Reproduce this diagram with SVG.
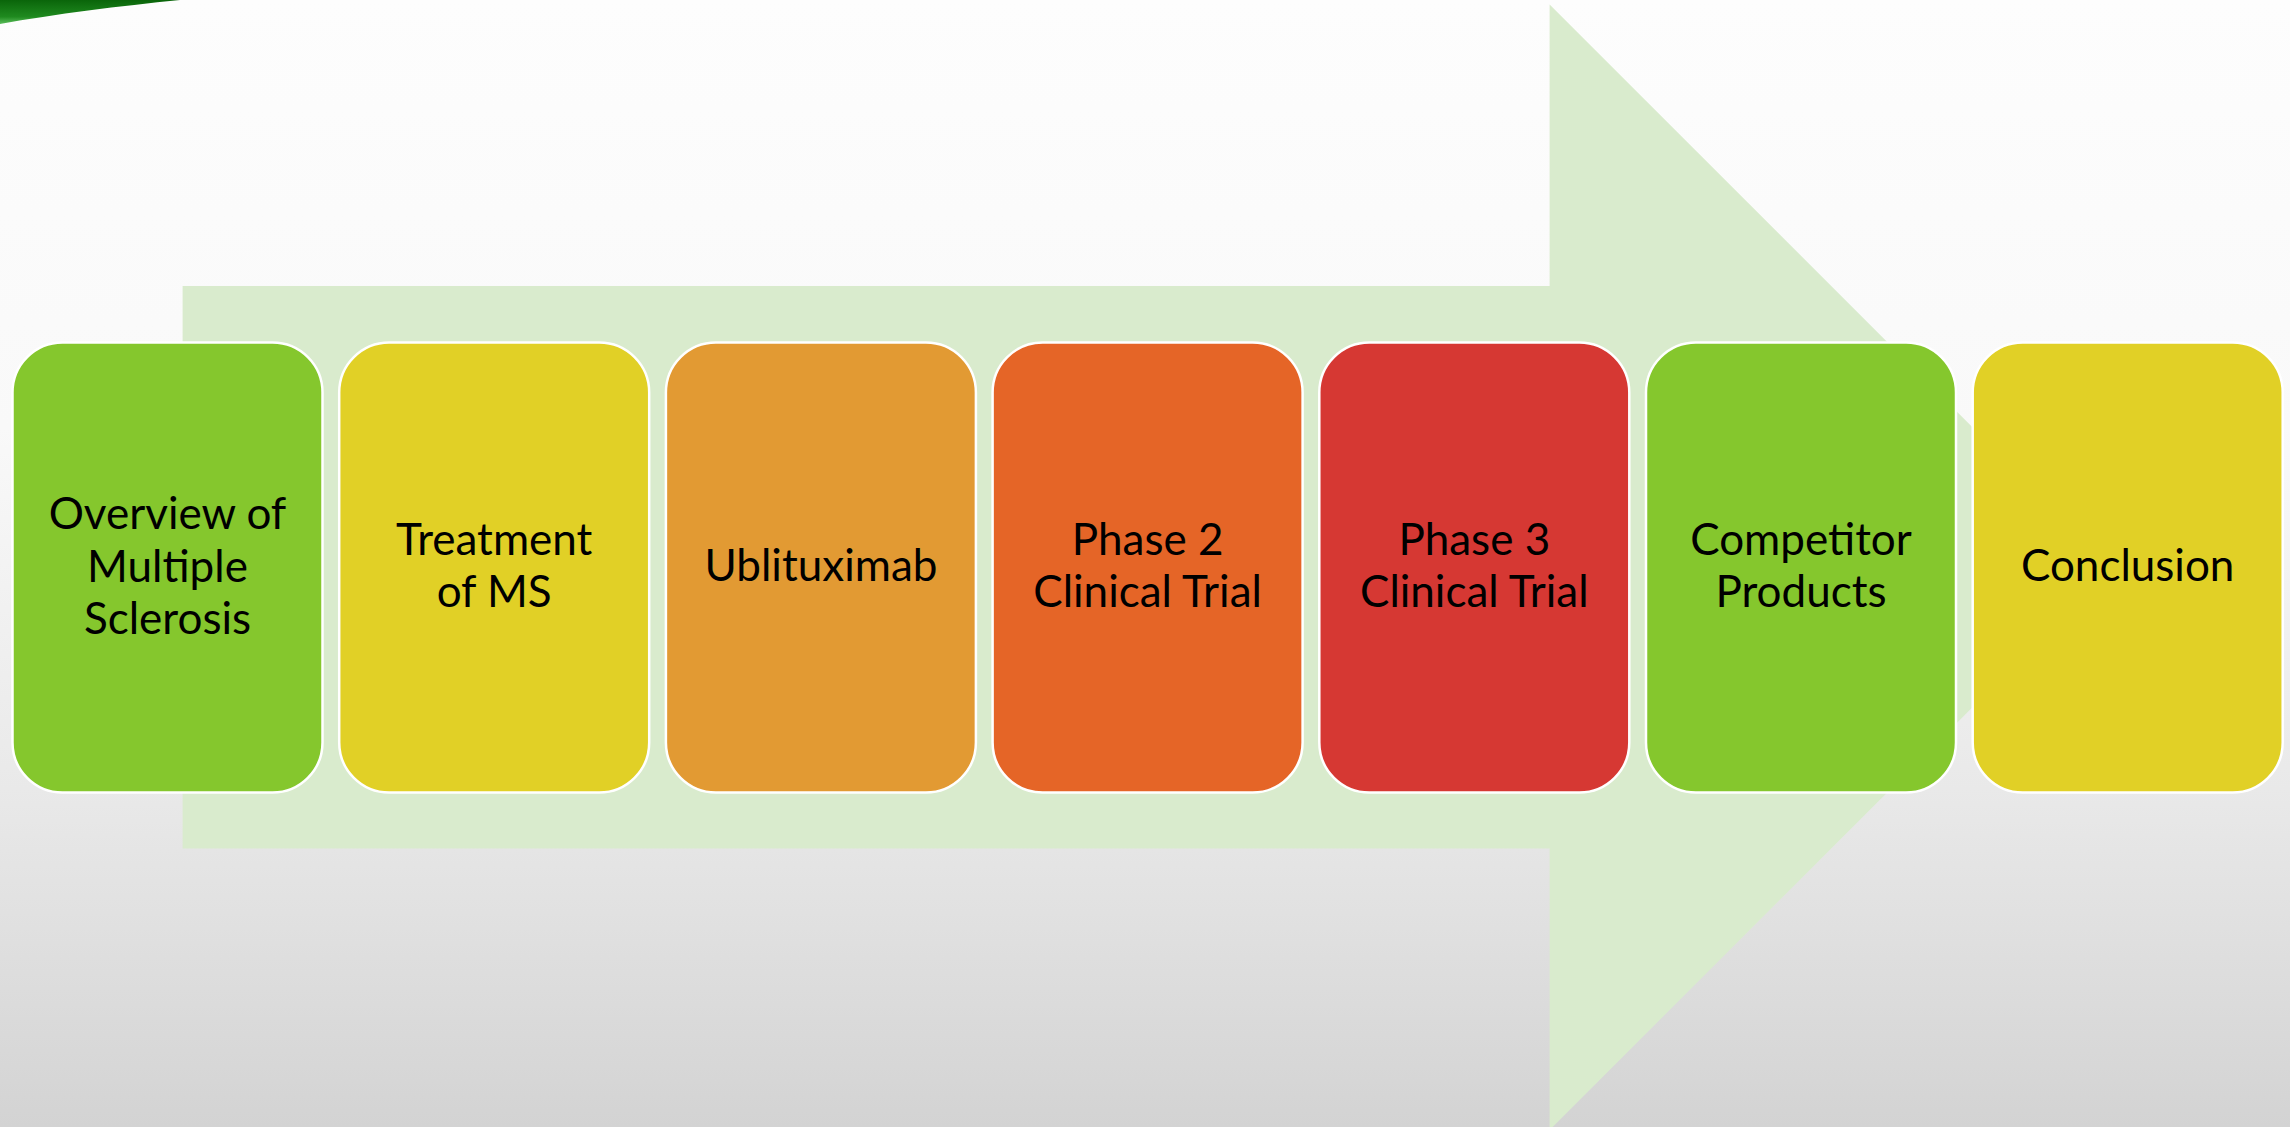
<svg xmlns="http://www.w3.org/2000/svg" width="2290" height="1127" viewBox="0 0 2290 1127">
<defs>
<linearGradient id="bg" x1="0" y1="0" x2="0" y2="1">
<stop offset="0" stop-color="#fdfdfd"/>
<stop offset="0.38" stop-color="#f9f9f9"/>
<stop offset="0.7" stop-color="#e9e9e9"/>
<stop offset="1" stop-color="#d3d3d3"/>
</linearGradient>
<linearGradient id="sw" x1="0" y1="0" x2="0" y2="1">
<stop offset="0" stop-color="#0a650a"/>
<stop offset="0.7" stop-color="#1f8a1f"/>
<stop offset="1" stop-color="#5cbf5c"/>
</linearGradient>
</defs>
<style>
.box{stroke:#ffffff;stroke-width:2.5}
.lbl{font-family:Lato,"Open Sans","Liberation Sans",sans-serif;font-size:44px;fill:#000000;text-anchor:middle}
</style>
<rect x="0" y="0" width="2290" height="1127" fill="url(#bg)"/>
<path d="M0,0 L180,0 C120,6 55,14 0,24 Z" fill="url(#sw)"/>
<g id="arrow">
<path d="M182.6,286 L1549.6,286 L1549.6,4.4 L2112.6,567.3 L1549.6,1130 L1549.6,848.6 L182.6,848.6 Z" fill="#d9ebcd"/>
</g>
<g id="connectors"></g>
<g id="n1"><rect class="box" x="12.5" y="342.5" width="310" height="450" rx="50" fill="#85c72d"/>
<text class="lbl" x="167.5" y="529">Overview of</text><text class="lbl" x="167.5" y="581.5">Multiple</text><text class="lbl" x="167.5" y="634">Sclerosis</text></g>
<g id="n2"><rect class="box" x="339.2" y="342.5" width="310" height="450" rx="50" fill="#e1d026"/>
<text class="lbl" x="494.2" y="555">Treatment</text><text class="lbl" x="494.2" y="607">of MS</text></g>
<g id="n3"><rect class="box" x="665.9" y="342.5" width="310" height="450" rx="50" fill="#e29a33"/>
<text class="lbl" x="820.9" y="581">Ublituximab</text></g>
<g id="n4"><rect class="box" x="992.6" y="342.5" width="310" height="450" rx="50" fill="#e56527"/>
<text class="lbl" x="1147.6" y="555">Phase 2</text><text class="lbl" x="1147.6" y="607">Clinical Trial</text></g>
<g id="n5"><rect class="box" x="1319.3" y="342.5" width="310" height="450" rx="50" fill="#d63833"/>
<text class="lbl" x="1474.3" y="555">Phase 3</text><text class="lbl" x="1474.3" y="607">Clinical Trial</text></g>
<g id="n6"><rect class="box" x="1646" y="342.5" width="310" height="450" rx="50" fill="#85c72d"/>
<text class="lbl" x="1801" y="555">Competitor</text><text class="lbl" x="1801" y="607">Products</text></g>
<g id="n7"><rect class="box" x="1972.7" y="342.5" width="310" height="450" rx="50" fill="#e1d026"/>
<text class="lbl" x="2127.7" y="581">Conclusion</text></g>
</svg>
